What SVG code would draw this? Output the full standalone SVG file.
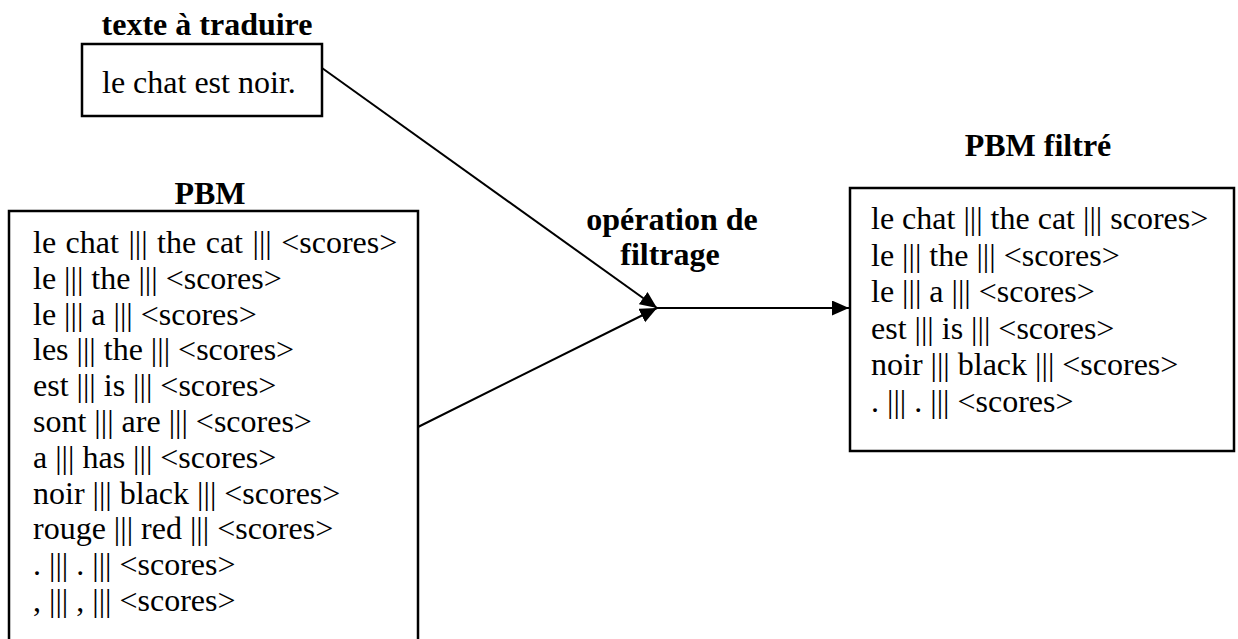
<svg xmlns="http://www.w3.org/2000/svg" width="1238" height="639" viewBox="0 0 1238 639">
<style>
.box{fill:#fff;stroke:#000;stroke-width:2.5}
.t{font-family:"Liberation Serif","Times New Roman",serif;font-size:32px;fill:#000}
.b{font-family:"Liberation Serif","Times New Roman",serif;font-size:32px;font-weight:bold;fill:#000;text-anchor:middle}
.c{stroke:#000;stroke-width:2;fill:none;marker-end:url(#ah)}
</style>
<defs>
<marker id="ah" markerUnits="userSpaceOnUse" markerWidth="18" markerHeight="16" refX="17" refY="7.5" orient="auto">
<path d="M0,0 L17,7.5 L0,15 z" fill="#000"/>
</marker>
</defs>
<rect width="1238" height="639" fill="#fff"/>
<g id="connectors">
<line class="c" x1="322" y1="68" x2="657" y2="308"/>
<line class="c" x1="418" y1="427" x2="657" y2="308"/>
<line class="c" x1="657" y1="308" x2="849" y2="308"/>
</g>
<g id="texte">
<text class="b" x="207" y="35">texte à traduire</text>
<rect class="box" x="82" y="44" width="240" height="72"/>
<text class="t" x="102" y="93">le chat est noir.</text>
</g>
<g id="pbm">
<text class="b" x="210" y="204">PBM</text>
<rect class="box" x="9" y="211" width="409" height="460"/>
<text class="t" x="33" y="253" word-spacing="1.5">le chat ||| the cat ||| &lt;scores&gt;</text>
<text class="t" x="33" y="288.8">le ||| the ||| &lt;scores&gt;</text>
<text class="t" x="33" y="324.6">le ||| a ||| &lt;scores&gt;</text>
<text class="t" x="33" y="360.4">les ||| the ||| &lt;scores&gt;</text>
<text class="t" x="33" y="396.2">est ||| is ||| &lt;scores&gt;</text>
<text class="t" x="33" y="432">sont ||| are ||| &lt;scores&gt;</text>
<text class="t" x="33" y="467.8">a ||| has ||| &lt;scores&gt;</text>
<text class="t" x="33" y="503.6">noir ||| black ||| &lt;scores&gt;</text>
<text class="t" x="33" y="539.4">rouge ||| red ||| &lt;scores&gt;</text>
<text class="t" x="33" y="575.2">. ||| . ||| &lt;scores&gt;</text>
<text class="t" x="33" y="611">, ||| , ||| &lt;scores&gt;</text>
</g>
<g id="operation">
<text class="b" x="672" y="230">opération de</text>
<text class="b" x="670" y="265">filtrage</text>
</g>
<g id="pbm-filtre">
<text class="b" x="1038" y="156">PBM filtré</text>
<rect class="box" x="850" y="188" width="384" height="263"/>
<text class="t" x="871" y="229">le chat ||| the cat ||| scores&gt;</text>
<text class="t" x="871" y="265.6">le ||| the ||| &lt;scores&gt;</text>
<text class="t" x="871" y="302.2">le ||| a ||| &lt;scores&gt;</text>
<text class="t" x="871" y="338.8">est ||| is ||| &lt;scores&gt;</text>
<text class="t" x="871" y="375.4">noir ||| black ||| &lt;scores&gt;</text>
<text class="t" x="871" y="412">. ||| . ||| &lt;scores&gt;</text>
</g>
</svg>
